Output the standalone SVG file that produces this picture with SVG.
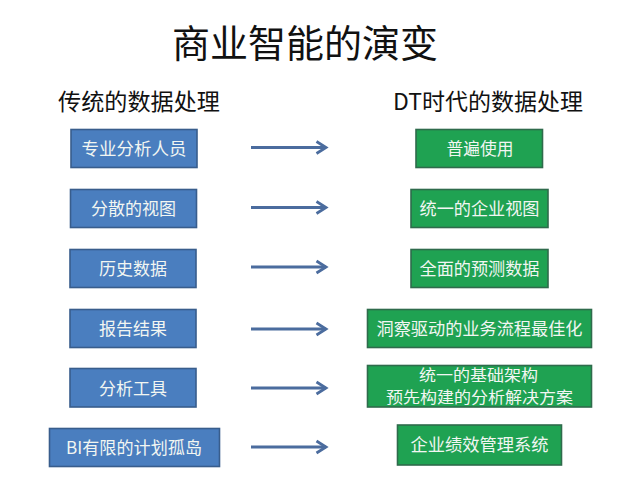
<svg xmlns="http://www.w3.org/2000/svg" width="640" height="503" viewBox="0 0 640 503">
<style>
.t{font-family:"Noto Sans CJK SC","Noto Sans",sans-serif;}
.title{font-size:38px;fill:#111;}
.sub{font-size:23px;fill:#111;}
.lbl{font-size:17px;fill:#f2f6f2;text-anchor:middle;}
.lbl2{font-size:15.4px;fill:#f2f6f2;text-anchor:middle;}
.blue{fill:#4a7ebf;stroke:#385d8c;stroke-width:1.6;}
.green{fill:#1fa252;stroke:#2f6b4c;stroke-width:1.6;}
.arrow{fill:none;stroke:#4b6c9e;stroke-width:2.8;}
</style>
<defs>
<marker id="arr" markerWidth="14" markerHeight="16" refX="11" refY="8" orient="auto" markerUnits="userSpaceOnUse">
<path d="M1.5,2 L11,8 L1.5,14" fill="none" stroke="#4b6c9e" stroke-width="2.8"/>
</marker>
</defs>
<rect width="640" height="503" fill="#ffffff"/>
<g id="headings">
<text class="t title" x="172" y="57" textLength="266" lengthAdjust="spacingAndGlyphs">商业智能的演变</text>
<text class="t sub" x="58" y="110" textLength="162" lengthAdjust="spacingAndGlyphs">传统的数据处理</text>
<text class="t sub" x="393" y="110" textLength="190" lengthAdjust="spacingAndGlyphs">DT时代的数据处理</text>
</g>
<g id="left1"><rect class="blue" x="71" y="129.5" width="126" height="38"/><text class="t lbl" x="134" y="155" textLength="105" lengthAdjust="spacingAndGlyphs">专业分析人员</text></g>
<g id="left2"><rect class="blue" x="70.5" y="189.5" width="126" height="38"/><text class="t lbl" x="133.5" y="215" textLength="85" lengthAdjust="spacingAndGlyphs">分散的视图</text></g>
<g id="left3"><rect class="blue" x="70" y="249.5" width="126" height="38"/><text class="t lbl" x="133" y="275" textLength="68" lengthAdjust="spacingAndGlyphs">历史数据</text></g>
<g id="left4"><rect class="blue" x="70" y="309.5" width="126" height="38"/><text class="t lbl" x="133" y="335" textLength="68" lengthAdjust="spacingAndGlyphs">报告结果</text></g>
<g id="left5"><rect class="blue" x="70" y="368.5" width="126" height="38.5"/><text class="t lbl" x="133" y="394.5" textLength="68" lengthAdjust="spacingAndGlyphs">分析工具</text></g>
<g id="left6"><rect class="blue" x="49.5" y="428.5" width="170" height="38"/><text class="t lbl" x="134" y="454" textLength="136" lengthAdjust="spacingAndGlyphs">BI有限的计划孤岛</text></g>
<g id="right1"><rect class="green" x="416" y="129.5" width="126.5" height="38"/><text class="t lbl" x="480" y="155" textLength="67" lengthAdjust="spacingAndGlyphs">普遍使用</text></g>
<g id="right2"><rect class="green" x="411" y="189.5" width="137" height="38"/><text class="t lbl" x="479.5" y="215" textLength="120" lengthAdjust="spacingAndGlyphs">统一的企业视图</text></g>
<g id="right3"><rect class="green" x="411" y="249.5" width="137" height="38"/><text class="t lbl" x="479.5" y="275" textLength="120" lengthAdjust="spacingAndGlyphs">全面的预测数据</text></g>
<g id="right4"><rect class="green" x="367.5" y="309.5" width="224" height="38"/><text class="t lbl" x="479.5" y="335" textLength="206" lengthAdjust="spacingAndGlyphs">洞察驱动的业务流程最佳化</text></g>
<g id="right5"><rect class="green" x="367.5" y="365.5" width="224" height="41.5"/><text class="t lbl2" x="478.5" y="380.5" textLength="119" lengthAdjust="spacingAndGlyphs">统一的基础架构</text><text class="t lbl2" x="479.5" y="403" textLength="187" lengthAdjust="spacingAndGlyphs">预先构建的分析解决方案</text></g>
<g id="right6"><rect class="green" x="397.5" y="425" width="164" height="40"/><text class="t lbl" x="479.5" y="451" textLength="138" lengthAdjust="spacingAndGlyphs">企业绩效管理系统</text></g>
<g id="connectors">
<path class="arrow" d="M251,147.5 H326" marker-end="url(#arr)"/>
<path class="arrow" d="M251,207.5 H326" marker-end="url(#arr)"/>
<path class="arrow" d="M251,267 H326" marker-end="url(#arr)"/>
<path class="arrow" d="M251,329 H326" marker-end="url(#arr)"/>
<path class="arrow" d="M251,388 H326" marker-end="url(#arr)"/>
<path class="arrow" d="M251,447 H326" marker-end="url(#arr)"/>
</g>
</svg>
